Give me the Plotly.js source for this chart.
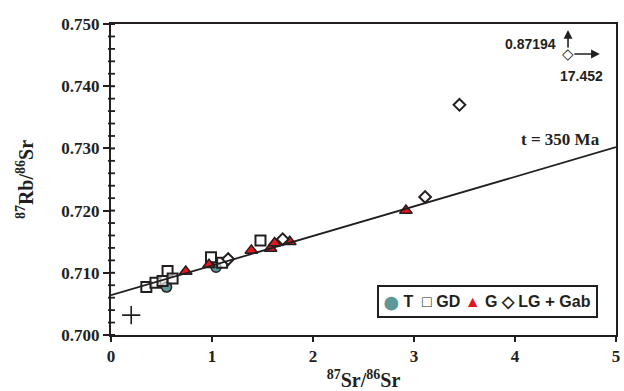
<!DOCTYPE html>
<html>
<head>
<meta charset="utf-8">
<script src="https://cdn.plot.ly/plotly-3.0.1.min.js"></script>
<style>html,body{margin:0;padding:0;background:#fff;}#chart{width:624px;height:391px;}</style>
</head>
<body>
<div id="chart"></div>
<script>
// Data (x = 87Sr/86Sr as labelled, y = 87Rb/86Sr as labelled)
var tX = [0.55, 1.04];
var tY = [0.7077, 0.7109];
var gdX = [0.35, 0.44, 0.51, 0.56, 0.61, 0.99, 1.10, 1.48];
var gdY = [0.7077, 0.7084, 0.7087, 0.7103, 0.7091, 0.7125, 0.7116, 0.7152];
var gX = [0.74, 0.97, 1.39, 1.58, 1.62, 1.77, 2.92];
var gY = [0.7102, 0.7113, 0.7136, 0.7139, 0.7148, 0.7150, 0.7200];
var lgX = [1.16, 1.70, 3.11, 3.45];
var lgY = [0.7122, 0.7154, 0.7222, 0.7370];
var gabX = [0.20];
var gabY = [0.7032];
var isoX = [0, 5];
var isoY = [0.7064, 0.7302];
var offScaleX = 17.452;
var offScaleY = 0.87194;
var xTicks = [0, 1, 2, 3, 4, 5];
var yTicks = [0.700, 0.710, 0.720, 0.730, 0.740, 0.750];
var yMinorTicks = [0.702, 0.704, 0.706, 0.708, 0.712, 0.714, 0.716, 0.718, 0.722, 0.724, 0.726, 0.728,
                   0.732, 0.734, 0.736, 0.738, 0.742, 0.744, 0.746, 0.748];

var serif = "Liberation Serif, Times New Roman, serif";
var sans = "Liberation Sans, Arial, sans-serif";
var ink = "#231f20";

var traces = [
  {x: tX, y: tY, type: "scatter", mode: "markers", name: "T",
   marker: {symbol: "circle", size: 10, color: "#5e9797", line: {color: ink, width: 1.5}}},
  {x: gdX, y: gdY, type: "scatter", mode: "markers", name: "GD",
   marker: {symbol: "square", size: 10, color: "rgba(255,255,255,0.6)", line: {color: ink, width: 2}}},
  {x: gX, y: gY, type: "scatter", mode: "markers", name: "G",
   marker: {symbol: "triangle-up", size: 11, color: "#e3161d", line: {color: ink, width: 1.5}}},
  {x: lgX, y: lgY, type: "scatter", mode: "markers", name: "LG",
   marker: {symbol: "diamond", size: 9, color: "#ffffff", line: {color: ink, width: 2}}},
  {x: gabX, y: gabY, type: "scatter", mode: "markers", name: "Gab",
   marker: {symbol: "cross-thin", size: 13, color: ink, line: {color: ink, width: 1.6}}},
  {x: isoX, y: isoY, type: "scatter", mode: "lines", name: "isochron",
   line: {color: ink, width: 1.8}}
];

// tick decorations on the y axis (crossing ticks), positioned by the y scale
var shapes = [];
yMinorTicks.forEach(function (v) {
  shapes.push({type: "line", xref: "paper", yref: "y", xsizemode: "pixel", xanchor: 0,
               x0: -3, x1: 4, y0: v, y1: v, line: {color: ink, width: 1.8}});
});
yTicks.forEach(function (v) {
  shapes.push({type: "line", xref: "paper", yref: "y", xsizemode: "pixel", xanchor: 0,
               x0: 0, x1: 4, y0: v, y1: v, line: {color: ink, width: 2}});
});

function col(c, s, sz) { return '<span style="color:' + c + ';font-size:' + sz + 'px">' + s + '</span>'; }
var legendText = col("#5e9797", "\u2B24", 13) + " T  " + col(ink, "\u25A1", 16) + " GD " +
  col("#e3161d", "\u25B2", 16) + " G " + col(ink, "\u25C7", 16) + " LG " + col(ink, "+", 17) + " Gab";

var layout = {
  width: 624, height: 391,
  margin: {l: 111, r: 8, t: 24, b: 56},
  paper_bgcolor: "#ffffff", plot_bgcolor: "#ffffff",
  showlegend: false,
  shapes: shapes,
  xaxis: {
    range: [0, 5], tickvals: xTicks, ticktext: xTicks.map(function (v) { return "<b>" + v + "</b>"; }),
    ticks: "outside", ticklen: 5, tickwidth: 2, tickcolor: ink,
    showline: true, linecolor: ink, linewidth: 2, mirror: true,
    showgrid: false, zeroline: false,
    tickfont: {family: serif, size: 17, color: ink},
    title: {text: "<b><sup>87</sup>Sr/<sup>86</sup>Sr</b>", font: {family: serif, size: 20, color: ink}, standoff: 9}
  },
  yaxis: {
    range: [0.700, 0.750], tickvals: yTicks, ticktext: yTicks.map(function (v) { return "<b>" + v.toFixed(3) + "</b>"; }),
    ticks: "outside", ticklen: 6, tickwidth: 2, tickcolor: ink,
    showline: true, linecolor: ink, linewidth: 2, mirror: true,
    showgrid: false, zeroline: false,
    tickfont: {family: serif, size: 17, color: ink},
    title: {text: "<b><sup>87</sup>Rb/<sup>86</sup>Sr</b>", font: {family: serif, size: 20, color: ink}, standoff: 22}
  },
  annotations: [
    {x: 4.04, y: 0.7314, xref: "x", yref: "y", xanchor: "left", yanchor: "middle", showarrow: false,
     text: "<b>t = 350 Ma</b>", font: {family: serif, size: 17, color: ink}},
    {x: 0.7455, y: 0.1077, xref: "paper", yref: "paper", xanchor: "center", yanchor: "middle", showarrow: false,
     text: "<b>" + legendText + "</b>", font: {family: sans, size: 16, color: ink},
     bordercolor: ink, borderwidth: 2, borderpad: 5, bgcolor: "#ffffff"},
    // off-scale point indicator
    {x: 0.905, y: 0.9035, xref: "paper", yref: "paper", xanchor: "center", yanchor: "middle", showarrow: false,
     text: "<b>\u25C7</b>", font: {family: "DejaVu Sans", size: 15, color: ink}},
    {x: 0.905, y: 0.981, xref: "paper", yref: "paper", ax: 0, ay: 19, showarrow: true,
     arrowhead: 2, arrowsize: 1.1, arrowwidth: 1.6, arrowcolor: ink, text: ""},
    {x: 0.968, y: 0.9035, xref: "paper", yref: "paper", ax: -27, ay: 0, showarrow: true,
     arrowhead: 2, arrowsize: 1.1, arrowwidth: 1.6, arrowcolor: ink, text: ""},
    {x: 0.885, y: 0.936, xref: "paper", yref: "paper", xanchor: "right", yanchor: "middle", showarrow: false,
     text: "<b>" + offScaleY.toFixed(5) + "</b>", font: {family: sans, size: 14, color: ink}},
    {x: 0.931, y: 0.833, xref: "paper", yref: "paper", xanchor: "center", yanchor: "middle", showarrow: false,
     text: "<b>" + offScaleX.toFixed(3) + "</b>", font: {family: sans, size: 14, color: ink}}
  ]
};

Plotly.newPlot("chart", traces, layout, {displayModeBar: false, staticPlot: true});
</script>
</body>
</html>
